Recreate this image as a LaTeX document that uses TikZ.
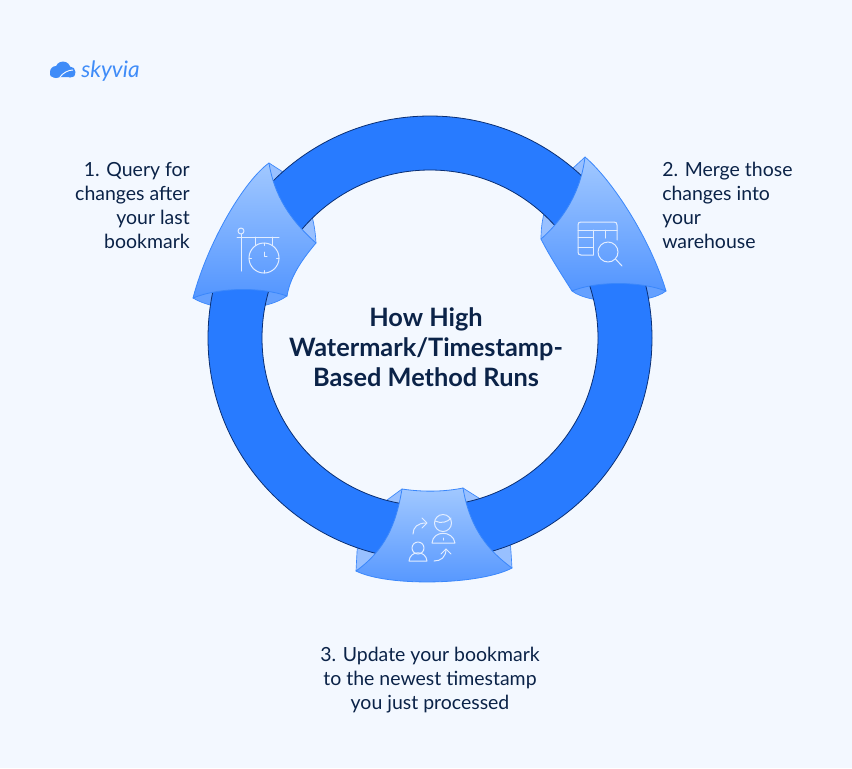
\documentclass[tikz,border=0pt]{standalone}
\usepackage{fontspec}
\setmainfont{Lato}
\usepackage{tikz}

\definecolor{pagebg}{HTML}{F3F8FF}
\definecolor{inkblue}{HTML}{0B2348}
\definecolor{ringblue}{HTML}{287BFF}
\definecolor{ringedge}{HTML}{0A2F73}
\definecolor{headedge}{HTML}{3A87FB}
\definecolor{logoblue}{HTML}{3F8CF8}
\definecolor{iconline}{HTML}{E2EDFF}

\tikzset{
  steptext/.style={text=inkblue, inner sep=0pt, font=\fontsize{14.6}{18}\selectfont},
  titletext/.style={text=inkblue, inner sep=0pt, align=center, font=\bfseries\fontsize{19}{22.5}\selectfont},
  ringpart/.style={fill=ringblue, draw=ringedge, line width=.6pt, even odd rule},
  headpart/.style={top color=blue!25!cyan!5!white!60!ringblue, bottom color=ringblue!80!white, draw=headedge, line width=.6pt, line join=round},
  flaptop/.style={fill=ringblue!48!white, draw=headedge, line width=.5pt, line join=round},
  flapbottom/.style={fill=ringblue!72!white, draw=headedge, line width=.5pt, line join=round},
  iconstroke/.style={draw=iconline, line width=.75pt, line cap=round, line join=round}
}

\begin{document}
\begin{tikzpicture}[x=.75pt,y=-.75pt]
  \fill[pagebg] (0,0) rectangle (852,768);
  \useasboundingbox (0,0) rectangle (852,768);

  \coordinate (O) at (430,338);

  % first head
  \coordinate (T1) at (269,163);
  \coordinate (R1) at (316,243);
  \coordinate (B1) at (287,296);
  \coordinate (L1) at (193,298);
  \coordinate (M1) at (250,250);
  % second head
  \coordinate (T2) at (585,157);
  \coordinate (L2) at (541,239);
  \coordinate (B2) at (572,291);
  \coordinate (R2) at (666,291);
  \coordinate (M2) at (605,250);
  % third head
  \coordinate (P3) at (402,489);
  \coordinate (Q3) at (463,488);
  \coordinate (R3) at (512,568);
  \coordinate (L3) at (356,571);
  \coordinate (M3) at (432,540);

  % flaps behind the ring
  \draw[flaptop] (T1) -- (283,172) .. controls (300,186) and (314,205) .. (R1) -- (M1) -- cycle;
  \draw[flapbottom] (L1) .. controls (215,312) and (265,312) .. (B1) -- (M1) -- cycle;
  \draw[flaptop] (T2) -- (572,169) .. controls (555,182) and (541,205) .. (L2) -- (M2) -- cycle;
  \draw[flapbottom] (B2) .. controls (590,305) and (648,305) .. (R2) -- (M2) -- cycle;
  \draw[flaptop] (P3) -- (383,503) .. controls (370,515) and (358,530) .. (357,552) -- (L3) -- (M3) -- cycle;
  \draw[flaptop] (Q3) -- (482,500) .. controls (498,512) and (510,530) .. (511,552) -- (R3) -- (M3) -- cycle;

  \draw[ringpart] (O) circle[radius=222] (O) circle[radius=168];

  % heads
  \draw[headpart] (T1) .. controls (245,180) and (208,241) .. (L1)
    .. controls (220,287) and (262,287) .. (B1)
    .. controls (290,278) and (300,262) .. (R1)
    .. controls (290,220) and (274,195) .. (T1) -- cycle;
  \draw[headpart] (T2) .. controls (612,180) and (650,238) .. (R2)
    .. controls (640,281) and (596,281) .. (B2)
    .. controls (560,272) and (549,255) .. (L2)
    .. controls (565,218) and (581,190) .. (T2) -- cycle;
  \draw[headpart] (P3) .. controls (422,492) and (443,492) .. (Q3)
    .. controls (470,530) and (490,552) .. (R3)
    .. controls (480,585) and (388,587) .. (L3)
    .. controls (385,550) and (396,525) .. (P3) -- cycle;

  % clock sign
  \draw[iconstroke] (241,231) circle[radius=3];
  \draw[iconstroke] (241,234) -- (241,271);
  \draw[iconstroke] (237,237) -- (279,237);
  \draw[iconstroke] (255,237) -- (255,245) (272,237) -- (272,245);
  \draw[iconstroke] (264,258) circle[radius=15];
  \draw[iconstroke] (264,252) -- (264,256.5) -- (267,256.5);
  \draw[iconstroke] (264,243) -- (264,245.5) (264,273) -- (264,270.5) (249,258) -- (251.5,258) (279,258) -- (276.5,258);

  % table and lens
  \draw[iconstroke] (593,255) -- (581,255) .. controls (579,255) and (578,254) .. (578,252)
    -- (578,225) .. controls (578,223) and (579,222) .. (581,222) -- (614,222)
    .. controls (616,222) and (617,223) .. (617,225) -- (617,240);
  \draw[iconstroke] (578,230) -- (617,230) (578,237.5) -- (593,237.5) (578,247) -- (593,247);
  \draw[iconstroke] (593,230) -- (593,255) (605,230) -- (605,238);
  \draw[iconstroke] (608,252) circle[radius=10];
  \draw[iconstroke] (615.5,259) -- (622,266);

  % people and arrows
  \draw[iconstroke] (443,523) circle[radius=8.5];
  \draw[iconstroke] (435,521) .. controls (441,524) and (448,522) .. (451,518);
  \draw[iconstroke] (432,543) .. controls (433,530) and (453,530) .. (455,543) -- cycle;
  \draw[iconstroke] (443,538) -- (443,540);
  \draw[iconstroke] (418,548) circle[radius=6];
  \draw[iconstroke] (409,561) .. controls (410,550) and (426,550) .. (427,561) -- cycle;
  \draw[iconstroke] (413,534) .. controls (413,527) and (418,523) .. (426,523);
  \draw[iconstroke] (422,518) -- (427,523) -- (422,528);
  \draw[iconstroke] (434,561) .. controls (441,561) and (446,557) .. (446,549);
  \draw[iconstroke] (441,554) -- (446,549) -- (451,554);

  % logo
  \fill[logoblue] (56,72) circle[radius=6] (63,69) circle[radius=7.5] (70,72) circle[radius=5.5];
  \fill[logoblue,rounded corners=2pt] (50,70) rectangle (75,77);
  \draw[pagebg, line width=.7pt] (60,77) .. controls (63,73) and (68,70) .. (73,70);
  \node[text=logoblue, inner sep=0pt, anchor=west, font=\itshape\fontsize{17}{18}\selectfont] (logo) at (81,71) {skyvia};

  \node[titletext] (title) at (426,347) {How High\\Watermark/Timestamp-\\Based Method Runs};
  \node[steptext, align=right, anchor=east] (step1) at (190,205) {1. Query for\\changes after\\your last\\bookmark};
  \node[steptext, align=left, anchor=west] (step2) at (662,205) {2. Merge those\\changes into\\your\\warehouse};
  \node[steptext, align=center] (step3) at (430,680.5) {3. Update your bookmark\\to the newest timestamp\\you just processed};
\end{tikzpicture}
\end{document}
